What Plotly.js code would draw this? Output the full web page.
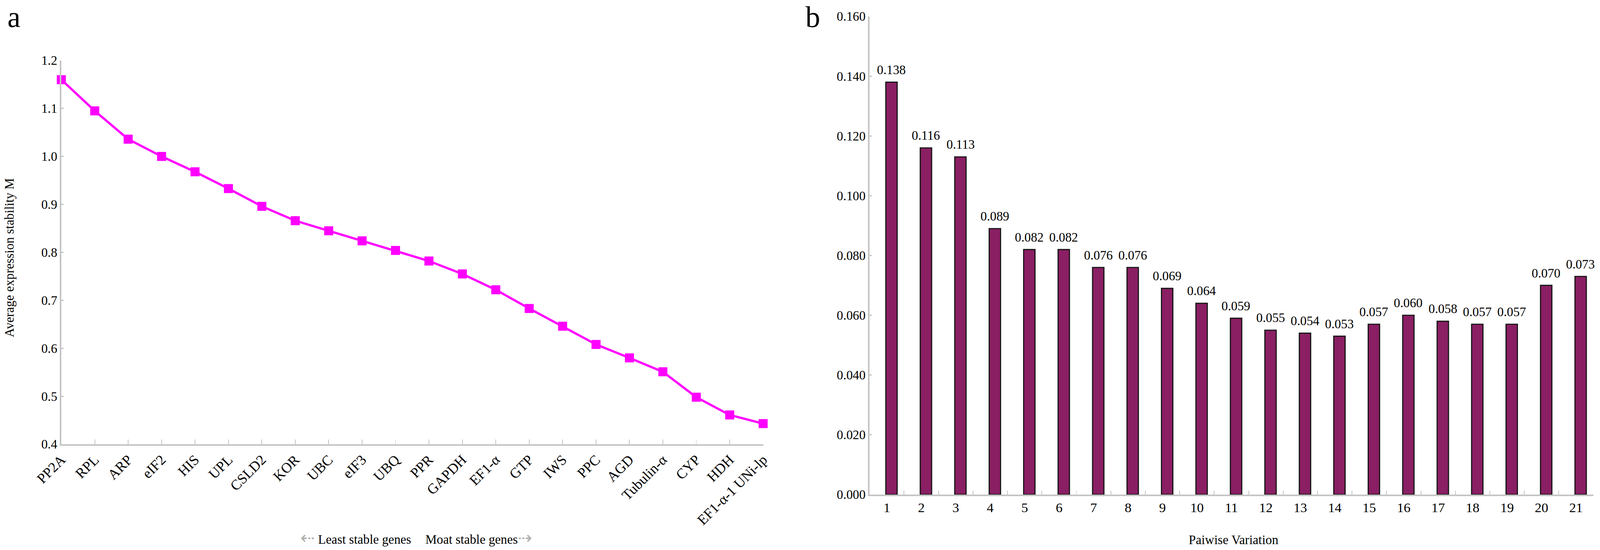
<!DOCTYPE html>
<html>
<head>
<meta charset="utf-8">
<script src="https://cdn.plot.ly/plotly-3.0.1.min.js"></script>
<style>
  html, body { margin: 0; padding: 0; background: #fff; overflow: hidden; }
  #chart { position: absolute; left: 0; top: 0; }
</style>
</head>
<body>
<div id="chart"></div>
<script>
// panel a: geNorm average expression stability
let genes = ['PP2A', 'RPL', 'ARP', 'eIF2', 'HIS', 'UPL', 'CSLD2', 'KOR', 'UBC', 'eIF3', 'UBQ',
             'PPR', 'GAPDH', 'EF1-α', 'GTP', 'IWS', 'PPC', 'AGD', 'Tubulin-α', 'CYP', 'HDH', 'EF1-α-1 UNi-lp'];
let stability = [1.160, 1.095, 1.036, 1.000, 0.968, 0.933, 0.896, 0.866, 0.845, 0.824, 0.804,
                 0.782, 0.755, 0.722, 0.683, 0.646, 0.608, 0.580, 0.551, 0.498, 0.461, 0.443];

// panel b: pairwise variation
let pairs = ['1', '2', '3', '4', '5', '6', '7', '8', '9', '10', '11',
             '12', '13', '14', '15', '16', '17', '18', '19', '20', '21'];
let variation = [0.138, 0.116, 0.113, 0.089, 0.082, 0.082, 0.076, 0.076, 0.069, 0.064, 0.059,
                 0.055, 0.054, 0.053, 0.057, 0.060, 0.058, 0.057, 0.057, 0.070, 0.073];

// the design is laid out on a 4252 x 1409 sheet, then fitted to the real viewport
let W0 = 4252, H0 = 1409;
let W = window.innerWidth || W0;
let H = window.innerHeight || H0;
let s = Math.min(W / W0, H / H0);
function px(v) { return v * s; }

let serif = 'Liberation Serif, Times New Roman, serif';
let axisGrey = '#c4c4c4';

let line = {
    x: genes,
    y: stability,
    type: 'scatter',
    mode: 'lines+markers',
    line: { color: '#ff00ff', width: px(6) },
    marker: { symbol: 'square', size: px(24), color: '#ff00ff' },
    cliponaxis: false,
    xaxis: 'x',
    yaxis: 'y',
    showlegend: false
};

let bars = {
    x: pairs,
    y: variation,
    type: 'bar',
    width: 0.33,
    offset: -0.03,
    marker: { color: '#8a1f63', line: { color: '#151515', width: px(3) } },
    xaxis: 'x2',
    yaxis: 'y2',
    showlegend: false
};

function font(size) {
    return { family: serif, size: px(size), color: '#000' };
}

let annotations = [];
for (let i = 0; i < pairs.length; i++) {
    annotations.push({
        x: i + 0.135, y: variation[i], xref: 'x2', yref: 'y2',
        text: variation[i].toFixed(3),
        showarrow: false, xanchor: 'center', yanchor: 'bottom',
        yshift: px(12),
        font: font(34)
    });
}

let arrowStyle = 'font-family:DejaVu Sans;color:#b0b0b0;font-size:' + px(46).toFixed(1) + 'px';

annotations.push(
    { text: 'a', xref: 'paper', yref: 'paper', x: 18 / W0, y: 1,
      xanchor: 'left', yanchor: 'top', showarrow: false, font: font(78) },
    { text: 'b', xref: 'paper', yref: 'paper', x: 2138 / W0, y: 1,
      xanchor: 'left', yanchor: 'top', showarrow: false, font: font(78) },
    { text: 'Average expression stability M', xref: 'paper', yref: 'paper',
      x: 25 / W0, y: 1 - 660 / H0, textangle: -90,
      xanchor: 'center', yanchor: 'middle', showarrow: false, font: font(34) },
    { text: '<span style="' + arrowStyle + '">⇠</span> Least stable genes',
      xref: 'paper', yref: 'paper', x: 1095 / W0, y: 4 / H0,
      xanchor: 'right', yanchor: 'bottom', showarrow: false, font: font(34) },
    { text: 'Moat stable genes<span style="' + arrowStyle + '">⇢</span>',
      xref: 'paper', yref: 'paper', x: 1128 / W0, y: 4 / H0,
      xanchor: 'left', yanchor: 'bottom', showarrow: false, font: font(34) },
    { text: 'Paiwise Variation', xref: 'paper', yref: 'paper',
      x: 3278 / W0, y: 1 - 1383 / H0,
      xanchor: 'center', yanchor: 'middle', showarrow: false, font: font(34) }
);

let layout = {
    width: W,
    height: H,
    margin: { l: 0, r: 0, t: 0, b: 0, pad: 0 },
    paper_bgcolor: '#fff',
    plot_bgcolor: '#fff',
    font: font(34),
    xaxis: {
        domain: [163 / W0, 2028 / W0],
        anchor: 'y',
        type: 'category',
        range: [0, 21],
        automargin: false,
        showline: true, linecolor: axisGrey, linewidth: px(4),
        ticks: 'inside', ticklen: px(12), tickwidth: px(2), tickcolor: axisGrey,
        tickangle: -45,
        ticklabelstandoff: px(26),
        tickfont: font(38),
        showgrid: false, zeroline: false
    },
    yaxis: {
        domain: [1 - 1138 / H0, 1 - 155 / H0],
        anchor: 'x',
        range: [0.4, 1.2],
        dtick: 0.1,
        tickformat: '.1f',
        automargin: false,
        showline: true, linecolor: axisGrey, linewidth: px(4),
        ticks: 'inside', ticklen: px(6), tickwidth: px(3), tickcolor: axisGrey,
        ticklabelstandoff: px(32),
        tickfont: font(34),
        showgrid: false, zeroline: false
    },
    xaxis2: {
        domain: [2311 / W0, 4234 / W0],
        anchor: 'y2',
        type: 'category',
        range: [-0.5, 20.5],
        tickson: 'boundaries',
        automargin: false,
        showline: true, linecolor: axisGrey, linewidth: px(4),
        ticks: 'inside', ticklen: px(10), tickwidth: px(2), tickcolor: axisGrey,
        ticklabelstandoff: px(28),
        tickfont: font(36),
        showgrid: false, zeroline: false
    },
    yaxis2: {
        domain: [1 - 1267 / H0, 1 - 42 / H0],
        anchor: 'x2',
        range: [0, 0.16],
        dtick: 0.02,
        tickformat: '.3f',
        automargin: false,
        showline: true, linecolor: axisGrey, linewidth: px(4),
        ticks: 'inside', ticklen: px(6), tickwidth: px(3), tickcolor: axisGrey,
        ticklabelstandoff: px(24),
        tickfont: font(34),
        showgrid: false, zeroline: false
    },
    annotations: annotations
};

Plotly.newPlot('chart', [line, bars], layout, { displayModeBar: false, staticPlot: true });
</script>
</body>
</html>
